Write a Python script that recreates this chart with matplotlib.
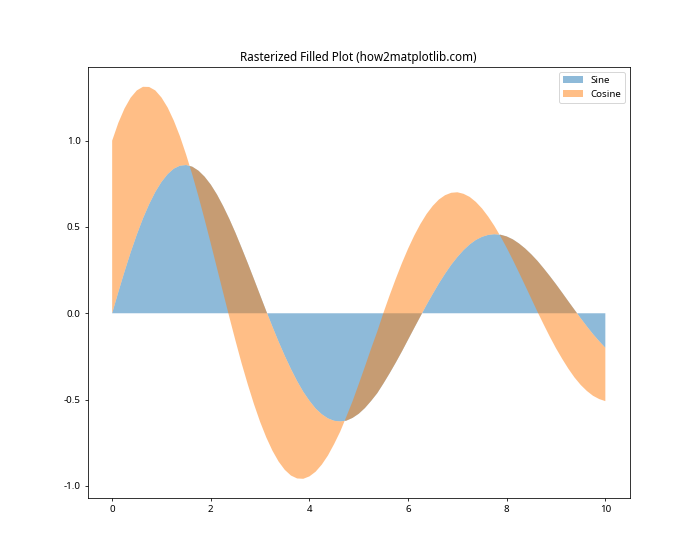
import matplotlib
matplotlib.use('Agg')
import matplotlib.pyplot as plt

plt.rcParams['font.family'] = ['Noto Sans', 'DejaVu Sans']
plt.rcParams['axes.unicode_minus'] = False

# values, step 0.125
x = [0.0, 0.125, 0.25, 0.375, 0.5, 0.625, 0.75, 0.875, 1.0, 1.125, 1.25,
     1.375, 1.5, 1.625, 1.75, 1.875, 2.0, 2.125, 2.25, 2.375, 2.5, 2.625,
     2.75, 2.875, 3.0, 3.125, 3.25, 3.375, 3.5, 3.625, 3.75, 3.875, 4.0,
     4.125, 4.25, 4.375, 4.5, 4.625, 4.75, 4.875, 5.0, 5.125, 5.25, 5.375,
     5.5, 5.625, 5.75, 5.875, 6.0, 6.125, 6.25, 6.375, 6.5, 6.625, 6.75,
     6.875, 7.0, 7.125, 7.25, 7.375, 7.5, 7.625, 7.75, 7.875, 8.0, 8.125,
     8.25, 8.375, 8.5, 8.625, 8.75, 8.875, 9.0, 9.125, 9.25, 9.375, 9.5,
     9.625, 9.75, 9.875, 10.0]
sine = [0.0, 0.123, 0.241, 0.353, 0.456, 0.550, 0.632, 0.703, 0.761, 0.806,
        0.838, 0.855, 0.859, 0.849, 0.826, 0.791, 0.745, 0.688, 0.621, 0.547,
        0.466, 0.379, 0.290, 0.198, 0.105, 0.012, -0.078, -0.165, -0.247,
        -0.323, -0.393, -0.455, -0.507, -0.552, -0.585, -0.609, -0.623,
        -0.627, -0.622, -0.606, -0.582, -0.549, -0.508, -0.463, -0.407,
        -0.348, -0.286, -0.221, -0.153, -0.085, -0.018, 0.049, 0.112, 0.173,
        0.229, 0.281, 0.326, 0.366, 0.399, 0.425, 0.443, 0.454, 0.458, 0.455,
        0.445, 0.428, 0.404, 0.375, 0.341, 0.303, 0.260, 0.215, 0.168, 0.119,
        0.069, 0.020, -0.029, -0.076, -0.121, -0.162, -0.200]
cosine_top = [1.0, 1.103, 1.186, 1.249, 1.291, 1.312, 1.311, 1.291, 1.250,
              1.192, 1.116, 1.025, 0.919, 0.803, 0.677, 0.543, 0.404, 0.262,
              0.120, -0.021, -0.158, -0.290, -0.412, -0.526, -0.629, -0.719,
              -0.796, -0.859, -0.907, -0.940, -0.957, -0.959, -0.945, -0.918,
              -0.877, -0.824, -0.758, -0.685, -0.598, -0.509, -0.410, -0.309,
              -0.205, -0.106, 0.002, 0.103, 0.199, 0.290, 0.374, 0.450, 0.517,
              0.575, 0.622, 0.659, 0.684, 0.698, 0.701, 0.692, 0.674, 0.645,
              0.607, 0.560, 0.506, 0.445, 0.379, 0.309, 0.235, 0.160, 0.084,
              0.008, -0.065, -0.136, -0.203, -0.264, -0.321, -0.372, -0.415,
              -0.450, -0.478, -0.497, -0.509]

fig, ax = plt.subplots(figsize=(10, 8), dpi=70)
ax.fill_between(x, sine, alpha=0.5, label='Sine', rasterized=True, linewidth=0)
ax.fill_between(x, sine, cosine_top, alpha=0.5, label='Cosine', rasterized=True, linewidth=0)
ax.set_title('Rasterized Filled Plot (how2matplotlib.com)')
ax.legend(loc='upper right')
fig.savefig('out.png', dpi=70)
